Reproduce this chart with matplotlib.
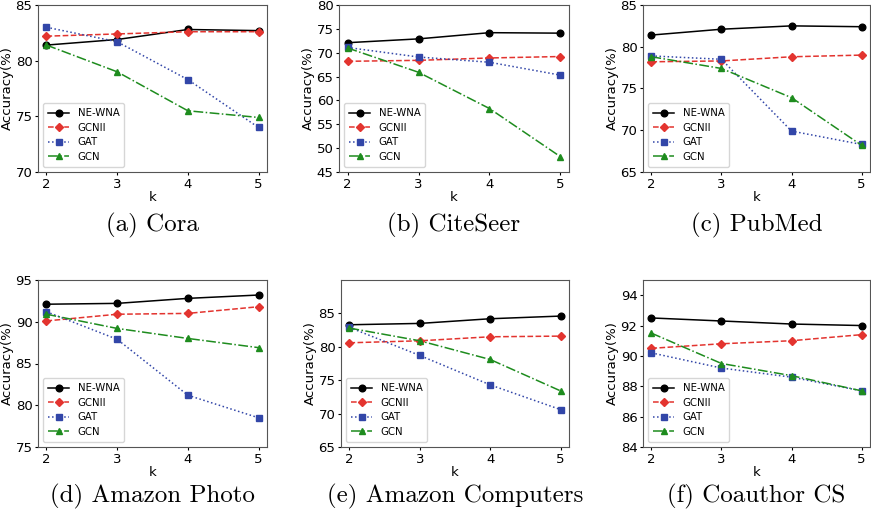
import matplotlib
matplotlib.use("Agg")
import matplotlib.pyplot as plt

k_values = [2, 3, 4, 5]
methods = ["NE-WNA", "GCNII", "GAT", "GCN"]

datasets = ["Cora", "CiteSeer", "PubMed", "Amazon Photo", "Amazon Computers", "Coauthor CS"]
panel_tags = ["(a)", "(b)", "(c)", "(d)", "(e)", "(f)"]

cora_acc = {
    "NE-WNA": [81.4, 81.9, 82.8, 82.7],
    "GCNII": [82.2, 82.4, 82.6, 82.6],
    "GAT": [83.0, 81.7, 78.3, 74.0],
    "GCN": [81.4, 79.0, 75.5, 74.9],
}
citeseer_acc = {
    "NE-WNA": [72.1, 72.9, 74.2, 74.1],
    "GCNII": [68.2, 68.4, 68.9, 69.2],
    "GAT": [71.1, 69.1, 68.0, 65.3],
    "GCN": [71.0, 65.9, 58.3, 48.2],
}
pubmed_acc = {
    "NE-WNA": [81.4, 82.1, 82.5, 82.4],
    "GCNII": [78.2, 78.3, 78.8, 79.0],
    "GAT": [78.9, 78.5, 69.9, 68.3],
    "GCN": [78.8, 77.4, 73.9, 68.2],
}
photo_acc = {
    "NE-WNA": [92.1, 92.2, 92.8, 93.2],
    "GCNII": [90.1, 90.9, 91.0, 91.8],
    "GAT": [91.2, 87.9, 81.2, 78.5],
    "GCN": [90.9, 89.2, 88.0, 86.9],
}
computers_acc = {
    "NE-WNA": [83.3, 83.5, 84.2, 84.6],
    "GCNII": [80.6, 80.9, 81.5, 81.6],
    "GAT": [82.9, 78.7, 74.3, 70.6],
    "GCN": [82.8, 80.9, 78.1, 73.4],
}
cs_acc = {
    "NE-WNA": [92.5, 92.3, 92.1, 92.0],
    "GCNII": [90.5, 90.8, 91.0, 91.4],
    "GAT": [90.2, 89.2, 88.6, 87.7],
    "GCN": [91.5, 89.5, 88.7, 87.7],
}
all_acc = [cora_acc, citeseer_acc, pubmed_acc, photo_acc, computers_acc, cs_acc]

y_limits = [(70, 85), (45, 80), (65, 85), (75, 95), (65, 90), (84, 95)]
y_ticks = [
    [70, 75, 80, 85],
    [45, 50, 55, 60, 65, 70, 75, 80],
    [65, 70, 75, 80, 85],
    [75, 80, 85, 90, 95],
    [65, 70, 75, 80, 85],
    [84, 86, 88, 90, 92, 94],
]

styles = {
    "NE-WNA": dict(color="black", linestyle="-", marker="o", ms=4.8),
    "GCNII": dict(color="#e3342f", linestyle="--", marker="D", ms=4.3),
    "GAT": dict(color="#3246a8", linestyle=":", marker="s", ms=4.8),
    "GCN": dict(color="#1e8c1e", linestyle="-.", marker="^", ms=5.0),
}

W, H = 871, 514
fig = plt.figure(figsize=(W / 100, H / 100), dpi=100)

# axes boxes in pixels: (left, top, right, bottom)
boxes = [
    (38, 5, 267, 172), (339, 5, 569, 172), (643, 5, 870, 172),
    (38, 280, 267, 447), (341, 280, 569, 447), (643, 280, 870, 447),
]
caption_base = [231, 231, 231, 502, 502, 502]

for i, (l, t, r, b) in enumerate(boxes):
    ax = fig.add_axes([l / W, 1 - b / H, (r - l) / W, (b - t) / H])
    acc = all_acc[i]
    for m in methods:
        st = styles[m]
        ax.plot(k_values, acc[m], linestyle=st["linestyle"], color=st["color"],
                marker=st["marker"], markersize=st["ms"], linewidth=1.1, label=m)
    ax.set_xlim(1.88, 5.12)
    ax.set_ylim(*y_limits[i])
    ax.set_xticks(k_values)
    ax.set_yticks(y_ticks[i])
    ax.tick_params(labelsize=9.5, length=2.5, pad=1.5)
    ax.set_xlabel("k", fontsize=9.5, labelpad=0)
    ax.set_ylabel("Accuracy(%)", fontsize=9.5, labelpad=1)
    for s in ax.spines.values():
        s.set_color("#555555")
    ax.legend(loc="lower left", fontsize=7.3, handlelength=2.1, borderpad=0.5,
              labelspacing=0.45, handletextpad=0.8)
    fig.text(((l + r) / 2) / W, 1 - caption_base[i] / H,
             f"{panel_tags[i]} {datasets[i]}", family="cmr10", fontsize=18,
             ha="center", va="baseline")

fig.savefig("out.png", dpi=100)
